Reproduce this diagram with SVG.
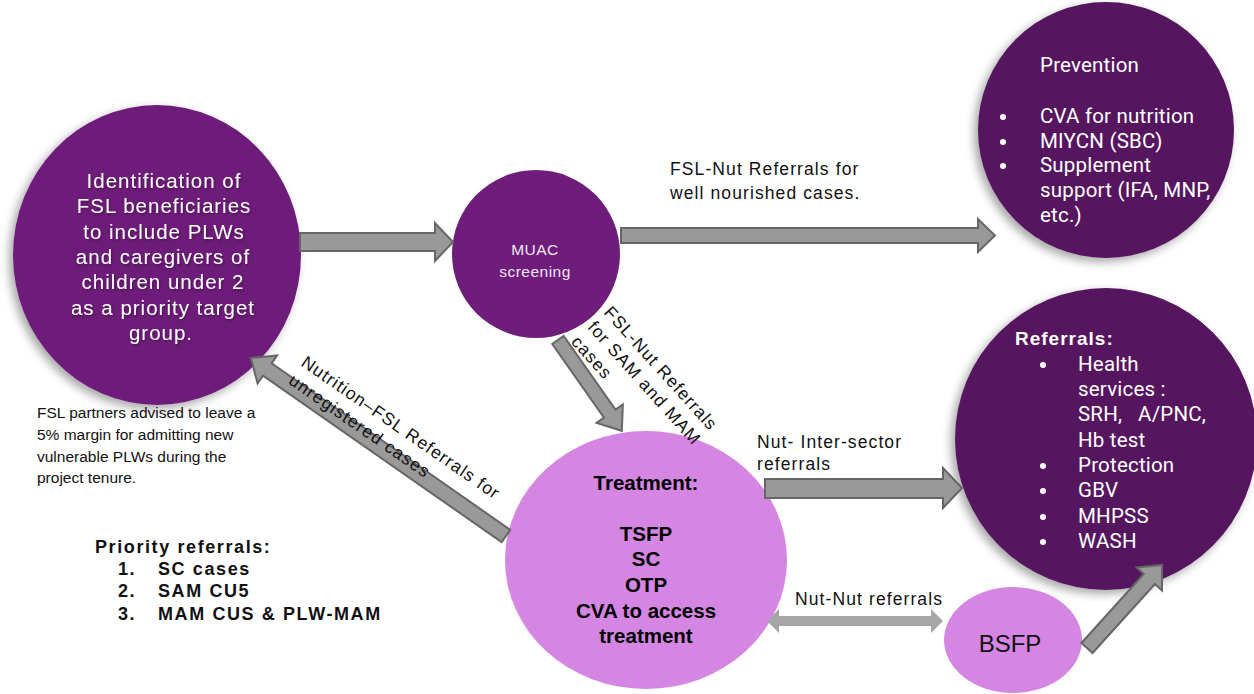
<svg xmlns="http://www.w3.org/2000/svg" width="1254" height="694" viewBox="0 0 1254 694">
  <defs>
    <filter id="softShadow" x="-20%" y="-20%" width="140%" height="140%">
      <feDropShadow dx="-4" dy="4" stdDeviation="5" flood-color="#000" flood-opacity="0.35"/>
    </filter>
    <filter id="textShadow" x="-10%" y="-10%" width="120%" height="130%">
      <feDropShadow dx="1" dy="1.5" stdDeviation="1" flood-color="#000" flood-opacity="0.35"/>
    </filter>
  </defs>
  <style>
    .arrow { fill: #999999; stroke: #666666; stroke-width: 2; stroke-linejoin: miter; }
    .arrow-light { fill: #A6A6A6; stroke: none; }
    .purple { fill: #6E1D7A; }
    .dark-purple { fill: #56165F; }
    .orchid { fill: #D586E3; }
    .lbl { font-family: "Liberation Sans", Arial, sans-serif; font-size: 17.5px; letter-spacing: 1.1px; fill: #111; }
    .intro { font-family: "Liberation Sans", Arial, sans-serif; font-size: 20.5px; letter-spacing: 1px; fill: #fff; text-anchor: middle; }
    .note { font-family: "Liberation Sans", Arial, sans-serif; font-size: 15.5px; fill: #111; }
    .list { font-family: Roboto, "Liberation Sans", sans-serif; font-size: 20.5px; letter-spacing: 0.2px; fill: #fff; }
    .treat { font-family: "Liberation Sans", Arial, sans-serif; font-size: 20.5px; font-weight: bold; fill: #000; text-anchor: middle; }
    .prio { font-family: "Liberation Sans", Arial, sans-serif; font-size: 18px; font-weight: bold; letter-spacing: 1.6px; fill: #111; }
  </style>

  <rect width="1254" height="694" fill="#ffffff"/>

  <!-- Identification of FSL beneficiaries -->
  <g id="node-identification">
    <ellipse class="purple" cx="157" cy="255" rx="144" ry="150" filter="url(#softShadow)"/>
    <g filter="url(#textShadow)">
      <text class="intro" x="164" y="188">Identification of</text>
      <text class="intro" x="164" y="213.3">FSL beneficiaries</text>
      <text class="intro" x="164" y="238.6">to include PLWs</text>
      <text class="intro" x="163" y="263.9">and caregivers of</text>
      <text class="intro" x="163" y="289.2">children under 2</text>
      <text class="intro" x="163" y="314.5">as a priority target</text>
      <text class="intro" x="161" y="339.8">group.</text>
    </g>
  </g>

  <!-- Margin note -->
  <g id="node-note">
    <text class="note" x="37" y="418">FSL partners advised to leave a</text>
    <text class="note" x="37" y="440">5% margin for admitting new</text>
    <text class="note" x="37" y="461.5">vulnerable PLWs during the</text>
    <text class="note" x="37" y="483">project tenure.</text>
  </g>

  <!-- MUAC screening -->
  <g id="node-muac">
    <circle class="purple" cx="536" cy="254" r="84"/>
    <text x="535" y="255" font-family="Liberation Sans, Arial, sans-serif" font-size="15.5" letter-spacing="0.5" fill="#F2E8F4" text-anchor="middle">MUAC</text>
    <text x="535" y="277" font-family="Liberation Sans, Arial, sans-serif" font-size="15.5" letter-spacing="0.5" fill="#F2E8F4" text-anchor="middle">screening</text>
  </g>

  <!-- Prevention -->
  <g id="node-prevention">
    <circle class="dark-purple" cx="1106" cy="130" r="128" filter="url(#softShadow)"/>
    <text class="list" x="1040" y="72" font-size="18" letter-spacing="0.6">Prevention</text>
    <g fill="#fff">
      <circle cx="1003" cy="117" r="3"/>
      <circle cx="1003" cy="142" r="3"/>
      <circle cx="1003" cy="166" r="3"/>
    </g>
    <text class="list" x="1040" y="123">CVA for nutrition</text>
    <text class="list" x="1040" y="148">MIYCN (SBC)</text>
    <text class="list" x="1040" y="172">Supplement</text>
    <text class="list" x="1040" y="197">support (IFA, MNP,</text>
    <text class="list" x="1040" y="222">etc.)</text>
  </g>

  <!-- Referrals -->
  <g id="node-referrals">
    <circle class="dark-purple" cx="1106" cy="439" r="151" filter="url(#softShadow)"/>
    <text x="1015" y="345" font-family="Liberation Sans, Arial, sans-serif" font-size="19" font-weight="bold" letter-spacing="1" fill="#fff">Referrals:</text>
    <g fill="#fff">
      <circle cx="1043" cy="365" r="3"/>
      <circle cx="1043" cy="466" r="3"/>
      <circle cx="1043" cy="491" r="3"/>
      <circle cx="1043" cy="517" r="3"/>
      <circle cx="1043" cy="542" r="3"/>
    </g>
    <text class="list" x="1078" y="371">Health</text>
    <text class="list" x="1078" y="396">services :</text>
    <text class="list" x="1078" y="421" xml:space="preserve">SRH,   A/PNC,</text>
    <text class="list" x="1078" y="447">Hb test</text>
    <text class="list" x="1078" y="472">Protection</text>
    <text class="list" x="1078" y="497">GBV</text>
    <text class="list" x="1078" y="523">MHPSS</text>
    <text class="list" x="1078" y="548">WASH</text>
  </g>

  <!-- Treatment -->
  <g id="node-treatment">
    <ellipse class="orchid" cx="646" cy="560" rx="141" ry="129"/>
    <text class="treat" x="646" y="490">Treatment:</text>
    <text class="treat" x="646" y="541">TSFP</text>
    <text class="treat" x="646" y="566">SC</text>
    <text class="treat" x="646" y="592">OTP</text>
    <text class="treat" x="646" y="618">CVA to access</text>
    <text class="treat" x="646" y="643">treatment</text>
  </g>

  <!-- BSFP -->
  <g id="node-bsfp">
    <ellipse class="orchid" cx="1013" cy="640" rx="69" ry="53"/>
    <text x="1010" y="652" font-family="Liberation Sans, Arial, sans-serif" font-size="24" fill="#111" text-anchor="middle">BSFP</text>
  </g>

  <!-- Priority referrals list -->
  <g id="node-priority">
    <text class="prio" x="95" y="553">Priority referrals:</text>
    <text class="prio" x="118" y="575">1.</text>
    <text class="prio" x="158" y="575">SC cases</text>
    <text class="prio" x="118" y="597">2.</text>
    <text class="prio" x="158" y="597">SAM CU5</text>
    <text class="prio" x="118" y="620">3.</text>
    <text class="prio" x="158" y="620">MAM CUS &amp; PLW-MAM</text>
  </g>

  <!-- Connectors -->
  <g id="connectors">
    <!-- identification to MUAC -->
    <path class="arrow" d="M300,233 L435,233 L435,223 L453,242 L435,261 L435,251 L300,251 Z"/>
    <!-- MUAC to prevention -->
    <path class="arrow" d="M621,228 L978,228 L978,219 L995,235.5 L978,252 L978,243 L621,243 Z"/>
    <text class="lbl" x="670" y="175">FSL-Nut Referrals for</text>
    <text class="lbl" x="670" y="199">well nourished cases.</text>

    <!-- MUAC to treatment -->
    <path class="arrow" transform="translate(558,340) rotate(54.9)" d="M0,-7 L90,-7 L90,-16 L111,0 L90,16 L90,7 L0,7 Z"/>
    <g transform="translate(603,313) rotate(48)">
      <text class="lbl" x="0" y="0">FSL-Nut Referrals</text>
      <text class="lbl" x="0" y="22">for SAM and MAM</text>
      <text class="lbl" x="0" y="44">cases</text>
    </g>

    <!-- treatment back to identification -->
    <path class="arrow" transform="translate(506,536) rotate(214.9)" d="M0,-7.5 L291,-7.5 L291,-17 L311,0 L291,17 L291,7.5 L0,7.5 Z"/>
    <g transform="translate(300,365) rotate(34.7)">
      <text class="lbl" x="0" y="0" letter-spacing="1.5">Nutrition–FSL Referrals for</text>
      <text class="lbl" x="0" y="22">unregistered cases</text>
    </g>

    <!-- treatment to referrals -->
    <path class="arrow" d="M765,479 L943,479 L943,468 L962,488 L943,508 L943,498 L765,498 Z"/>
    <text class="lbl" x="757" y="448">Nut- Inter-sector</text>
    <text class="lbl" x="757" y="470">referrals</text>

    <!-- treatment to BSFP, both ways -->
    <path class="arrow-light" d="M767,621 L779,609 L779,616 L931,616 L931,609 L943,621 L931,633 L931,626 L779,626 L779,633 Z"/>
    <text class="lbl" x="795" y="605">Nut-Nut referrals</text>

    <!-- BSFP to referrals -->
    <path class="arrow" transform="translate(1087,648) rotate(-47.9)" d="M0,-7.5 L93,-7.5 L93,-17 L112,0 L93,17 L93,7.5 L0,7.5 Z"/>
  </g>
</svg>
